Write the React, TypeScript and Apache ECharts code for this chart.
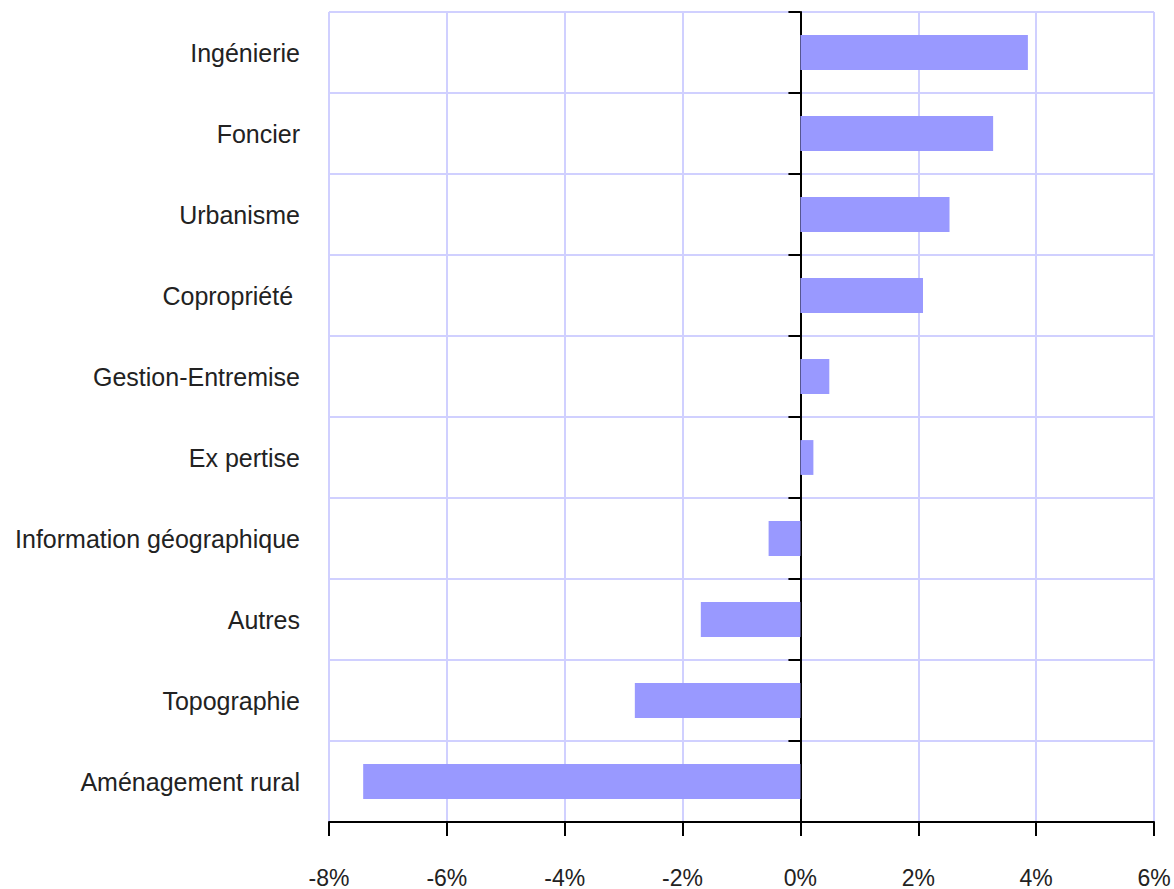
import React, { useEffect, useRef } from "react";
import * as echarts from "echarts";

const categories = [
  "Ingénierie",
  "Foncier",
  "Urbanisme",
  "Copropriété ",
  "Gestion-Entremise",
  "Ex pertise",
  "Information géographique",
  "Autres",
  "Topographie",
  "Aménagement rural",
];
const values = [3.86, 3.27, 2.53, 2.08, 0.49, 0.22, -0.54, -1.69, -2.81, -7.42];
const xMin = -8;
const xMax = 6;
const xStep = 2;

export default function App() {
  const ref = useRef<HTMLDivElement>(null);
  useEffect(() => {
    if (!ref.current) return;
    const chart = echarts.init(ref.current, undefined, { renderer: "svg" });
    const font = "'Liberation Sans', Arial, sans-serif";
    const gridColor = "#d0d0ff";
    chart.setOption({
      animation: false,
      backgroundColor: "#ffffff",
      grid: { left: 329, right: 20, top: 12, bottom: 66, containLabel: false },
      xAxis: {
        type: "value",
        min: xMin,
        max: xMax,
        interval: xStep,
        axisLine: { show: true, onZero: false, lineStyle: { color: "#000", width: 2 } },
        axisTick: { show: true, length: 14, lineStyle: { color: "#000", width: 2 } },
        axisLabel: {
          margin: 44,
          color: "#222",
          fontSize: 23,
          fontFamily: font,
          formatter: (v: number) => `${v}%`,
        },
        splitLine: { show: true, lineStyle: { color: gridColor, width: 2 } },
      },
      yAxis: [
        {
          type: "category",
          data: categories,
          inverse: true,
          position: "left",
          axisLine: { show: false, onZero: false },
          axisTick: { show: false },
          axisLabel: {
            margin: 29,
            color: "#222",
            fontSize: 25,
            fontFamily: font,
          },
          splitLine: { show: true, lineStyle: { color: gridColor, width: 2 } },
        },
        {
          type: "category",
          data: categories,
          inverse: true,
          position: "left",
          axisLine: { show: true, onZero: true, onZeroAxisIndex: 0, lineStyle: { color: "#000", width: 2 } },
          axisTick: { show: true, length: 12, lineStyle: { color: "#000", width: 2 } },
          axisLabel: { show: false },
          splitLine: { show: false },
        },
      ],
      series: [
        {
          type: "bar",
          data: values,
          yAxisIndex: 0,
          barWidth: "43%",
          itemStyle: { color: "#9999ff" },
        },
      ],
    });
    return () => chart.dispose();
  }, []);
  return <div ref={ref} style={{ width: 1174, height: 889, position: "absolute", left: 0, top: 0 }} />;
}
